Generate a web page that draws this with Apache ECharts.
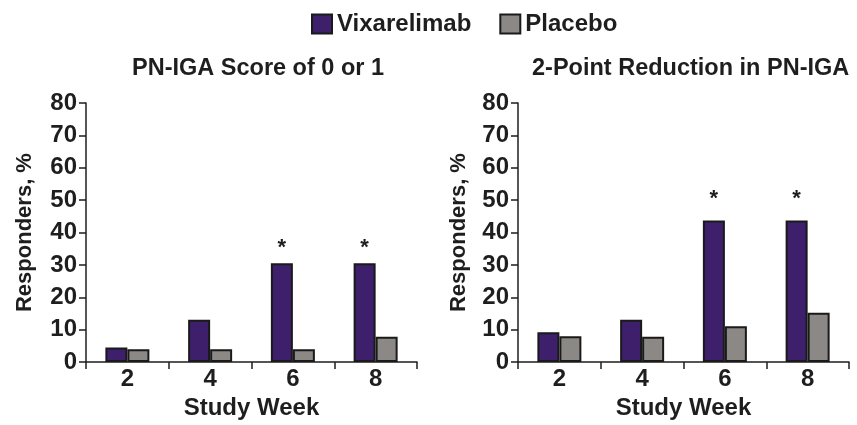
<!DOCTYPE html>
<html>
<head>
<meta charset="utf-8">
<script src="https://cdn.jsdelivr.net/npm/echarts@6/dist/echarts.min.js"></script>
<style>html,body{margin:0;padding:0;background:#fff;}#c{width:857px;height:425px;}</style>
</head>
<body>
<div id="c"></div>
<script>
const weeks = ['2', '4', '6', '8'];
const yTicksMax = 80;
const leftTitle = 'PN-IGA Score of 0 or 1';
const rightTitle = '2-Point Reduction in PN-IGA';
const leftVix = [4.5, 13.1, 30.5, 30.5];
const leftPlacebo = [4.0, 4.0, 4.0, 7.8];
const rightVix = [9.2, 13.1, 43.7, 43.7];
const rightPlacebo = [8.0, 7.8, 11.1, 15.2];
const leftSig = [false, false, true, true];
const rightSig = [false, false, true, true];

const FONT = 'Liberation Sans, Arial, sans-serif';
const TXT = '#1e1e1e';
const VIX = '#3e1f6c';
const PLA = '#8b8885';

function yAxis(idx, gap) {
  return {
    type: 'value', gridIndex: idx, min: 0, max: yTicksMax, interval: 10,
    name: 'Responders, %', nameLocation: 'middle', nameGap: gap,
    nameTextStyle: {fontFamily: FONT, fontWeight: 'bold', fontSize: 22, color: TXT},
    axisLine: {show: true, lineStyle: {color: TXT, width: 1.5}},
    axisTick: {show: true, length: 7, lineStyle: {color: TXT, width: 1.5}},
    axisLabel: {fontFamily: FONT, fontWeight: 'bold', fontSize: 24, color: TXT, margin: 9},
    splitLine: {show: false}
  };
}
function xAxis(idx) {
  return {
    type: 'category', gridIndex: idx, data: weeks,
    name: 'Study Week', nameLocation: 'middle', nameGap: 30,
    nameTextStyle: {fontFamily: FONT, fontWeight: 'bold', fontSize: 24, color: TXT, verticalAlign: 'top'},
    axisLine: {show: true, lineStyle: {color: TXT, width: 1.5}},
    axisTick: {show: true, length: 7, alignWithLabel: false, lineStyle: {color: TXT, width: 1.5}},
    axisLabel: {fontFamily: FONT, fontWeight: 'bold', fontSize: 24, color: TXT, margin: 5}
  };
}
function barSeries(name, data, color, idx, sig, dist) {
  return {
    name: name, type: 'bar', xAxisIndex: idx, yAxisIndex: idx, data: data,
    barWidth: 22, barGap: '0%',
    itemStyle: {color: color, borderColor: '#1a1a1a', borderWidth: 2},
    label: sig ? {
      show: true, position: 'top', distance: dist,
      fontFamily: FONT, fontWeight: 'bold', fontSize: 22, color: TXT,
      formatter: p => sig[p.dataIndex] ? '*' : ''
    } : {show: false}
  };
}

const chart = echarts.init(document.getElementById('c'));
chart.setOption({
  animation: false,
  backgroundColor: '#fff',
  legend: {
    top: 7, left: 306, itemWidth: 20, itemHeight: 19, itemGap: 28, icon: 'rect',
    textStyle: {fontFamily: FONT, fontWeight: 'bold', fontSize: 24, color: TXT},
    data: ['Vixarelimab', 'Placebo']
  },
  title: [
    {text: leftTitle, left: 132, top: 57, padding: 0,
     textStyle: {fontFamily: FONT, fontWeight: 'bold', fontSize: 23.5, color: TXT}},
    {text: rightTitle, left: 532, top: 57, padding: 0,
     textStyle: {fontFamily: FONT, fontWeight: 'bold', fontSize: 23.5, color: TXT}}
  ],
  grid: [
    {left: 86, right: 440, top: 103, bottom: 56, containLabel: false},
    {left: 518, right: 8, top: 103, bottom: 56, containLabel: false}
  ],
  xAxis: [xAxis(0), xAxis(1)],
  yAxis: [yAxis(0, 50), yAxis(1, 48)],
  series: [
    barSeries('Vixarelimab', leftVix, VIX, 0, leftSig, 4),
    barSeries('Placebo', leftPlacebo, PLA, 0, null, 0),
    barSeries('Vixarelimab', rightVix, VIX, 1, rightSig, 11),
    barSeries('Placebo', rightPlacebo, PLA, 1, null, 0)
  ]
});
</script>
</body>
</html>
